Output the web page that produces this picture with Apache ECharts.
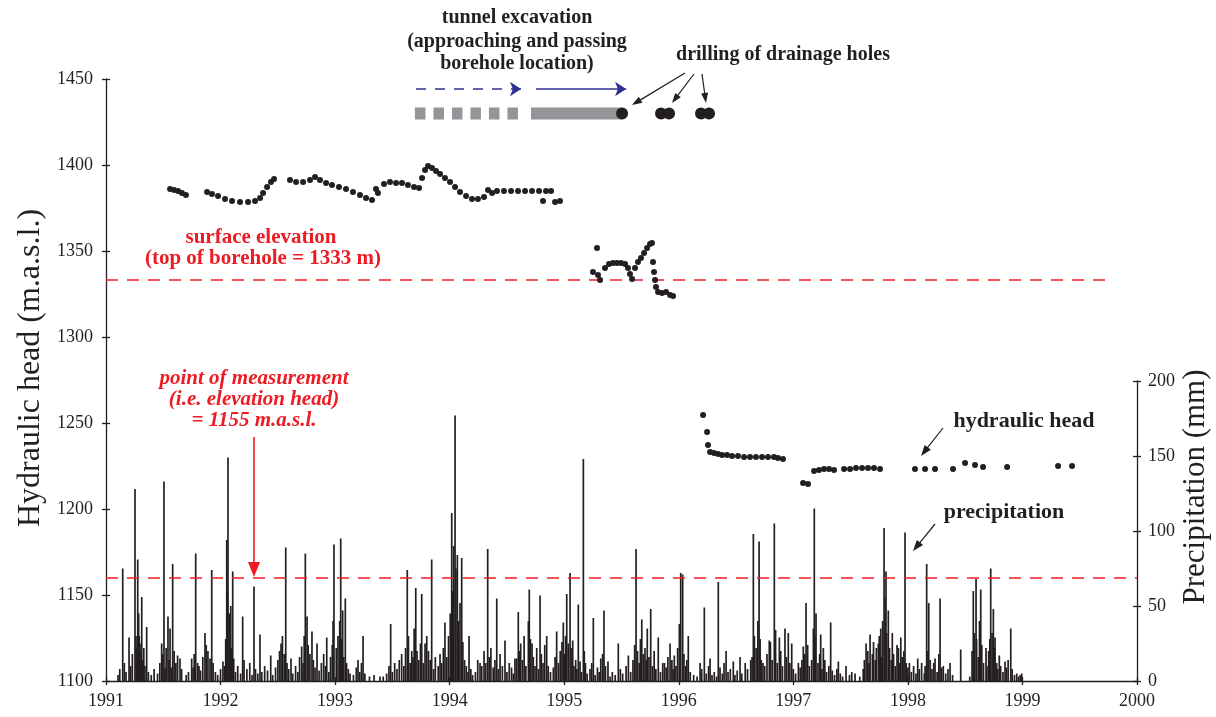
<!DOCTYPE html>
<html>
<head>
<meta charset="utf-8">
<script src="https://cdn.jsdelivr.net/npm/echarts@6/dist/echarts.min.js"></script>
<style>
html,body{margin:0;padding:0;background:#fff;}
#chart{width:1216px;height:717px;}
</style>
</head>
<body>
<div id="chart"></div>
<script>
// ---------- DATA ----------
const yearTicks = [1991, 2000];
const headTicks = [1100, 1450];
const precipTicks = [0, 200];

// hydraulic head (decimal year, m.a.s.l.)
const headSeg1 = [
[1991.559,1386.0],[1991.594,1385.5],[1991.629,1384.9],[1991.663,1383.7],[1991.698,1382.6],
[1991.882,1384.3],[1991.925,1383.1],[1991.978,1382.0],[1992.039,1380.2],[1992.100,1379.1],
[1992.170,1378.5],[1992.240,1378.5],[1992.301,1379.1],[1992.345,1380.8],[1992.371,1383.7],
[1992.406,1387.2],[1992.440,1390.1],[1992.467,1391.9],[1992.606,1391.3],[1992.659,1390.1],
[1992.720,1390.1],[1992.781,1391.3],[1992.825,1393.0],[1992.868,1391.3],[1992.921,1389.5],
[1992.973,1388.4],[1993.034,1387.2],[1993.095,1386.0],[1993.156,1384.3],[1993.217,1382.6],
[1993.270,1380.8],[1993.322,1379.7],[1993.357,1386.0],[1993.374,1383.7],[1993.427,1389.0],
[1993.479,1390.1],[1993.532,1389.5],[1993.584,1389.5],[1993.636,1388.4],[1993.689,1387.2],
[1993.733,1386.6],[1993.759,1392.4],[1993.785,1397.1],[1993.811,1399.4],[1993.846,1398.3],
[1993.881,1396.5],[1993.916,1394.8],[1993.959,1392.4],[1994.003,1390.1],[1994.047,1387.2],
[1994.090,1384.3],[1994.143,1382.0],[1994.195,1380.2],[1994.247,1380.2],[1994.300,1381.4],
[1994.335,1385.5],[1994.370,1383.7],[1994.413,1384.9],[1994.474,1384.9],[1994.536,1384.9],
[1994.597,1384.9],[1994.658,1384.9],[1994.719,1384.9],[1994.780,1384.9],[1994.841,1384.9],
[1994.885,1384.9],[1994.815,1379.1],[1994.920,1378.5],[1994.963,1379.1]
];
const headSeg2 = [
[1995.251,1337.8],[1995.286,1351.7],[1995.295,1336.0],[1995.313,1333.1],[1995.356,1340.1],
[1995.391,1342.4],[1995.426,1343.0],[1995.461,1343.0],[1995.496,1343.0],[1995.531,1342.4],
[1995.557,1340.1],[1995.574,1336.6],[1995.592,1333.7],[1995.618,1340.1],[1995.644,1343.6],
[1995.670,1345.9],[1995.697,1348.8],[1995.723,1351.7],[1995.749,1354.1],[1995.766,1354.7],
[1995.775,1343.6],[1995.784,1337.8],[1995.793,1333.1],[1995.801,1329.1],[1995.819,1326.2],
[1995.854,1325.6],[1995.889,1326.2],[1995.924,1324.4],[1995.950,1323.8]
];
const headSeg3 = [
[1996.212,1254.7],[1996.247,1244.8],[1996.255,1237.2],[1996.273,1233.1],[1996.308,1232.6],
[1996.343,1232.0],[1996.378,1231.4],[1996.421,1231.4],[1996.465,1230.8],[1996.517,1230.8],
[1996.570,1230.2],[1996.622,1230.2],[1996.674,1230.2],[1996.727,1230.2],[1996.779,1230.2],
[1996.831,1230.2],[1996.866,1229.7],[1996.910,1229.1],[1997.085,1215.1],[1997.128,1214.5],
[1997.181,1222.1],[1997.224,1222.7],[1997.268,1223.3],[1997.312,1223.3],[1997.355,1222.7],
[1997.443,1223.3],[1997.495,1223.3],[1997.547,1223.8],[1997.600,1223.8],[1997.652,1223.8],
[1997.704,1223.8],[1997.757,1223.3],[1998.062,1223.3],[1998.150,1223.3],[1998.237,1223.3],
[1998.394,1223.3],[1998.499,1226.7],[1998.586,1225.6],[1998.656,1224.4],[1998.866,1224.4],
[1999.311,1225.0],[1999.433,1225.0]
];

// precipitation (decimal year, mm) - main events
const precipPeaks = [
[1991.146,75],[1991.201,29],[1991.253,128],[1991.277,81],[1991.297,25],[1991.312,56],[1991.355,36],
[1991.486,25],[1991.506,133],[1991.541,43],[1991.559,35],[1991.582,78],[1991.646,15],[1991.748,15],
[1991.783,85],[1991.812,10],[1991.864,32],[1991.890,20],[1991.908,15],[1991.923,74],[1992.021,13],
[1992.054,94],[1992.065,149],[1992.089,50],[1992.106,73],[1992.193,43],[1992.292,63],[1992.344,31],
[1992.438,17],[1992.528,25],[1992.569,89],[1992.615,15],[1992.708,23],[1992.740,85],[1992.755,43],
[1992.798,33],[1992.842,25],[1992.927,29],[1992.990,91],[1993.049,95],[1993.066,47],[1993.089,55],
[1993.200,14],[1993.244,30],[1993.392,3],[1993.485,38],[1993.581,18],[1993.630,74],[1993.669,20],
[1993.704,62],[1993.756,58],[1993.785,25],[1993.843,81],[1993.916,18],[1993.959,39],[1994.018,112],
[1994.047,177],[1994.067,84],[1994.090,52],[1994.105,82],[1994.169,30],[1994.265,12],[1994.332,88],
[1994.411,55],[1994.483,27],[1994.570,15],[1994.599,46],[1994.620,25],[1994.687,40],[1994.695,61],
[1994.719,25],[1994.789,57],[1994.847,30],[1994.934,33],[1994.992,39],[1995.022,58],[1995.051,72],
[1995.074,27],[1995.123,51],[1995.138,13],[1995.167,148],[1995.254,42],[1995.319,15],[1995.347,47],
[1995.382,13],[1995.472,25],[1995.560,17],[1995.627,88],[1995.677,41],[1995.725,35],[1995.755,48],
[1995.821,29],[1995.860,12],[1995.924,25],[1995.961,17],[1996.005,38],[1996.017,72],[1996.034,71],
[1996.083,30],[1996.186,12],[1996.223,49],[1996.273,15],[1996.345,66],[1996.413,20],[1996.476,13],
[1996.535,16],[1996.628,14],[1996.651,98],[1996.701,93],[1996.735,12],[1996.790,27],[1996.834,105],
[1996.878,29],[1996.927,35],[1996.956,32],[1996.986,25],[1997.044,12],[1997.087,23],[1997.111,52],
[1997.183,115],[1997.198,45],[1997.239,31],[1997.262,22],[1997.326,39],[1997.393,13],[1997.460,10],
[1997.539,5],[1997.635,25],[1997.670,31],[1997.742,25],[1997.763,35],[1997.792,102],[1997.809,73],
[1997.829,47],[1997.864,32],[1997.917,22],[1997.938,29],[1997.975,99],[1998.013,12],[1998.086,15],
[1998.143,5],[1998.164,78],[1998.182,52],[1998.237,15],[1998.281,55],[1998.309,10],[1998.368,12],
[1998.461,21],[1998.571,60],[1998.595,68],[1998.636,61],[1998.682,22],[1998.723,75],[1998.746,48],
[1998.761,29],[1998.798,17],[1998.848,13],[1998.898,35],[1998.950,5],[1998.994,5]
];
// precipitation (decimal year, mm) - smaller daily amounts
const precipMinor = [
[1991.105,4],[1991.120,8],[1991.160,12],[1991.175,6],[1991.215,10],[1991.230,18],[1991.262,30],
[1991.270,22],[1991.285,45],[1991.290,30],[1991.305,20],[1991.320,14],[1991.330,22],[1991.340,10],
[1991.370,6],[1991.395,4],[1991.420,8],[1991.450,5],[1991.470,12],[1991.495,18],[1991.515,9],
[1991.525,22],[1991.550,14],[1991.570,9],[1991.595,20],[1991.610,12],[1991.625,17],[1991.660,8],
[1991.700,4],[1991.720,6],[1991.760,9],[1991.770,18],[1991.800,12],[1991.825,7],[1991.845,16],
[1991.875,24],[1991.935,12],[1991.955,6],[1991.975,4],
[1992.000,8],[1992.035,10],[1992.045,28],[1992.060,60],[1992.075,45],[1992.095,22],[1992.115,15],
[1992.130,6],[1992.150,10],[1992.175,5],[1992.205,14],[1992.230,8],[1992.255,12],[1992.275,4],
[1992.305,8],[1992.325,5],[1992.360,6],[1992.385,10],[1992.410,7],[1992.455,4],[1992.480,9],
[1992.500,14],[1992.515,20],[1992.540,30],[1992.555,18],[1992.580,12],[1992.595,8],[1992.630,5],
[1992.655,10],[1992.675,6],[1992.690,16],[1992.720,12],[1992.730,30],[1992.765,24],[1992.780,18],
[1992.810,14],[1992.825,9],[1992.860,7],[1992.880,12],[1992.900,18],[1992.915,10],[1992.945,6],
[1992.960,16],[1992.975,24],[1992.982,40],
[1993.010,22],[1993.025,30],[1993.040,40],[1993.055,28],[1993.075,16],[1993.100,12],[1993.115,8],
[1993.130,5],[1993.160,4],[1993.185,9],[1993.215,6],[1993.230,12],[1993.260,5],[1993.300,3],
[1993.340,4],[1993.420,3],[1993.450,5],[1993.470,10],[1993.500,6],[1993.520,12],[1993.540,8],
[1993.560,14],[1993.600,10],[1993.615,22],[1993.640,30],[1993.655,12],[1993.680,16],[1993.690,35],
[1993.715,20],[1993.730,14],[1993.745,25],[1993.770,12],[1993.800,30],[1993.815,20],[1993.830,14],
[1993.860,8],[1993.875,16],[1993.900,10],[1993.930,12],[1993.945,22],[1993.975,16],[1993.990,30],
[1994.005,45],[1994.025,60],[1994.035,90],[1994.055,75],[1994.075,40],[1994.080,28],[1994.115,26],
[1994.130,14],[1994.145,10],[1994.160,6],[1994.185,8],[1994.200,4],[1994.225,6],[1994.245,14],
[1994.280,10],[1994.300,20],[1994.315,12],[1994.345,16],[1994.360,22],[1994.380,9],[1994.395,14],
[1994.425,8],[1994.440,18],[1994.460,10],[1994.500,6],[1994.520,12],[1994.540,9],[1994.555,5],
[1994.585,15],[1994.610,20],[1994.635,14],[1994.650,30],[1994.665,10],[1994.705,28],[1994.730,16],
[1994.745,10],[1994.760,22],[1994.775,8],[1994.800,18],[1994.815,12],[1994.830,24],[1994.860,10],
[1994.880,6],[1994.905,9],[1994.920,16],[1994.950,12],[1994.965,20],[1994.980,26],
[1995.005,18],[1995.012,30],[1995.035,25],[1995.060,22],[1995.085,10],[1995.100,14],[1995.110,8],
[1995.150,6],[1995.175,20],[1995.185,12],[1995.200,5],[1995.225,8],[1995.240,12],[1995.270,4],
[1995.290,9],[1995.305,6],[1995.335,18],[1995.360,10],[1995.400,3],[1995.420,6],[1995.445,4],
[1995.490,8],[1995.510,5],[1995.540,10],[1995.580,6],[1995.600,14],[1995.615,24],[1995.640,20],
[1995.655,12],[1995.665,28],[1995.690,18],[1995.705,22],[1995.715,14],[1995.740,16],[1995.770,10],
[1995.785,20],[1995.800,8],[1995.840,6],[1995.875,12],[1995.890,9],[1995.905,16],[1995.940,14],
[1995.950,8],[1995.975,10],[1995.990,22],
[1996.012,30],[1996.045,18],[1996.060,10],[1996.070,14],[1996.100,6],[1996.130,4],[1996.160,3],
[1996.200,8],[1996.240,5],[1996.260,10],[1996.290,4],[1996.310,6],[1996.330,3],[1996.360,9],
[1996.380,5],[1996.395,12],[1996.430,6],[1996.450,8],[1996.490,4],[1996.510,7],[1996.550,5],
[1996.580,12],[1996.600,8],[1996.640,16],[1996.660,30],[1996.675,22],[1996.690,40],[1996.710,28],
[1996.720,14],[1996.750,10],[1996.770,18],[1996.800,26],[1996.815,14],[1996.845,34],[1996.860,12],
[1996.890,20],[1996.905,10],[1996.940,16],[1996.970,12],
[1997.000,8],[1997.020,5],[1997.060,9],[1997.075,14],[1997.100,18],[1997.125,24],[1997.140,10],
[1997.160,14],[1997.175,35],[1997.190,30],[1997.215,12],[1997.230,18],[1997.250,8],[1997.275,14],
[1997.290,6],[1997.310,10],[1997.340,7],[1997.360,4],[1997.380,8],[1997.410,5],[1997.430,3],
[1997.490,4],[1997.510,6],[1997.580,3],[1997.610,8],[1997.620,14],[1997.650,20],[1997.660,12],
[1997.690,18],[1997.700,26],[1997.715,14],[1997.725,22],[1997.750,30],[1997.770,16],[1997.780,40],
[1997.800,55],[1997.815,32],[1997.840,22],[1997.855,14],[1997.875,18],[1997.890,10],[1997.905,24],
[1997.925,12],[1997.950,16],[1997.965,20],[1997.985,12],
[1998.000,9],[1998.030,6],[1998.050,10],[1998.070,5],[1998.100,8],[1998.120,12],[1998.150,10],
[1998.175,20],[1998.195,14],[1998.210,8],[1998.225,12],[1998.255,6],[1998.270,18],[1998.295,9],
[1998.330,5],[1998.350,8],[1998.390,4],[1998.540,3],[1998.560,20],[1998.580,32],[1998.600,28],
[1998.615,16],[1998.625,40],[1998.645,24],[1998.660,12],[1998.690,10],[1998.705,20],[1998.715,28],
[1998.735,32],[1998.755,22],[1998.775,12],[1998.785,8],[1998.810,10],[1998.830,6],[1998.860,9],
[1998.875,14],[1998.910,8],[1998.930,4],[1998.965,3],[1998.980,4]
];

// reference levels (m.a.s.l.)
const surfaceElevation = 1333;
const measurementLevel = 1160;
// tunnel / drilling timeline (drawn at 1430 m level)
const timelineLevel = 1430;
const tunnelApproach = [1993.697, 1994.623];
const tunnelPassing = [1994.710, 1995.505];
const drillingDates = [1995.505, 1995.845, 1995.915, 1996.194, 1996.264];
const arrowLevel = 1444.2;
const arrowApproach = [1993.706, 1994.623];
const arrowPassing = [1994.754, 1995.540];

// ---------- CHART ----------
const INK = '#231f20', RED = '#ed1c24', BLUE = '#2e3192', GRAY = '#939598';
const SERIF = '"Liberation Serif", "Times New Roman", serif';
const chart = echarts.init(document.getElementById('chart'), null, {renderer: 'canvas'});

const axisLineStyle = {color: INK, width: 1.3};
const fmt = v => String(v);
function labelStyle(margin) {
  return {fontFamily: SERIF, fontSize: 18, color: INK, margin: margin, formatter: fmt};
}

function txt(text, x, y, font, fill, extra) {
  return Object.assign({
    type: 'text', x: x, y: y, silent: true, z: 100,
    style: {text: text, x: 0, y: 0, font: font, fill: fill,
      align: 'center', verticalAlign: 'middle', textAlign: 'center', textVerticalAlign: 'middle'}
  }, extra || {});
}
function arrow(x1, y1, x2, y2, color, w, len, half) {
  const dx = x2 - x1, dy = y2 - y1, d = Math.sqrt(dx*dx + dy*dy);
  const ux = dx/d, uy = dy/d;
  const bx = x2 - ux*len, by = y2 - uy*len;
  return [
    {type: 'line', silent: true, z: 100, shape: {x1: x1, y1: y1, x2: bx + ux*2, y2: by + uy*2},
      style: {stroke: color, lineWidth: w}},
    {type: 'polygon', silent: true, z: 100,
      shape: {points: [[x2, y2], [bx - uy*half, by + ux*half], [bx + uy*half, by - ux*half]]},
      style: {fill: color}}
  ];
}

const bold20 = 'bold 20px ' + SERIF;
const redB = 'bold 21px ' + SERIF;
const redBI = 'italic bold 21px ' + SERIF;

const graphics = [
  txt('Hydraulic head (m.a.s.l.)', 31, 368, '32px ' + SERIF, INK, {rotation: Math.PI/2}),
  txt('Precipitation (mm)', 1196, 487, '31px ' + SERIF, INK, {rotation: Math.PI/2}),
  txt('tunnel excavation', 517, 18, bold20, INK),
  txt('(approaching and passing', 517, 42, bold20, INK),
  txt('borehole location)', 517, 64, bold20, INK),
  txt('drilling of drainage holes', 783, 55, bold20, INK),
  txt('surface elevation', 261, 238, redB, RED),
  txt('(top of borehole = 1333 m)', 263, 259, redB, RED),
  txt('point of measurement', 254, 379, redBI, RED),
  txt('(i.e. elevation head)', 254, 400, redBI, RED),
  txt('= 1155 m.a.s.l.', 254, 421, redBI, RED),
  txt('hydraulic head', 1024, 421, 'bold 22px ' + SERIF, INK),
  txt('precipitation', 1004, 512, 'bold 22px ' + SERIF, INK)
].concat(
  arrow(685, 73, 632, 105, INK, 1.2, 10, 3.5),
  arrow(694, 74, 672, 103, INK, 1.2, 10, 3.5),
  arrow(702, 74, 706, 103, INK, 1.2, 10, 3.5),
  arrow(943, 428, 921, 456, INK, 1.2, 11, 4),
  arrow(935, 524, 913, 551, INK, 1.2, 11, 4),
  arrow(254, 437, 254, 577, RED, 1.6, 15, 6)
);

const innerTick = {show: true, inside: true, length: 4, lineStyle: axisLineStyle};
const option = {
  animation: false,
  backgroundColor: '#fff',
  grid: [
    {left: 106, right: 79, top: 79, bottom: 36},
    {left: 106, right: 79, top: 381, bottom: 36}
  ],
  xAxis: [
    {gridIndex: 0, type: 'value', position: 'bottom', min: yearTicks[0], max: yearTicks[1], interval: 1,
      axisLine: {show: true, lineStyle: axisLineStyle},
      axisTick: {show: true, length: 4, lineStyle: axisLineStyle},
      axisLabel: labelStyle(11), splitLine: {show: false}},
    {gridIndex: 1, type: 'value', position: 'bottom', min: yearTicks[0], max: yearTicks[1], interval: 1, show: false,
      splitLine: {show: false}},
    {gridIndex: 0, type: 'value', position: 'bottom', min: yearTicks[0], max: yearTicks[1], interval: 1,
      axisLine: {show: false}, axisLabel: {show: false}, splitLine: {show: false}, axisTick: innerTick}
  ],
  yAxis: [
    {gridIndex: 0, type: 'value', position: 'left', min: headTicks[0], max: headTicks[1], interval: 50,
      axisLine: {show: true, lineStyle: axisLineStyle},
      axisTick: {show: true, length: 4, lineStyle: axisLineStyle},
      axisLabel: labelStyle(13), splitLine: {show: false}},
    {gridIndex: 1, type: 'value', position: 'right', min: precipTicks[0], max: precipTicks[1], interval: 50,
      axisLine: {show: true, lineStyle: axisLineStyle},
      axisTick: {show: true, length: 4, lineStyle: axisLineStyle},
      axisLabel: labelStyle(11), splitLine: {show: false}},
    {gridIndex: 0, type: 'value', position: 'left', offset: 0, min: headTicks[0], max: headTicks[1], interval: 50,
      axisLine: {show: false}, axisLabel: {show: false}, splitLine: {show: false}, axisTick: innerTick},
    {gridIndex: 1, type: 'value', position: 'right', offset: 0, min: precipTicks[0], max: precipTicks[1], interval: 50,
      axisLine: {show: false}, axisLabel: {show: false}, splitLine: {show: false}, axisTick: innerTick}
  ],
  series: [
    {type: 'bar', xAxisIndex: 1, yAxisIndex: 1, data: precipPeaks.concat(precipMinor),
      barWidth: 1.7, itemStyle: {color: INK, opacity: 1}, silent: true, z: 2},
    {type: 'scatter', xAxisIndex: 0, yAxisIndex: 0, data: headSeg1.concat(headSeg2, headSeg3),
      symbol: 'circle', symbolSize: 6, itemStyle: {color: INK, opacity: 1}, silent: true, z: 5,
      markLine: {silent: true, symbol: ['none', 'none'], label: {show: false},
        lineStyle: {color: RED, type: [12, 9], width: 1.5},
        data: [
          [{coord: [yearTicks[0], surfaceElevation]}, {coord: [1999.73, surfaceElevation]}],
          [{coord: [yearTicks[0], measurementLevel]}, {coord: [yearTicks[1], measurementLevel]}]
        ]}},
    {type: 'line', xAxisIndex: 0, yAxisIndex: 0, silent: true, symbol: 'none', z: 4,
      data: [[tunnelApproach[0], timelineLevel], [tunnelApproach[1], timelineLevel]],
      lineStyle: {color: GRAY, width: 12, type: [10.5, 8], cap: 'butt'},
      markLine: {silent: true, symbol: ['none', 'arrow'], symbolSize: 11, label: {show: false},
        lineStyle: {color: BLUE, width: 1.5, type: [10, 9]},
        data: [[{coord: [arrowApproach[0], arrowLevel]}, {coord: [arrowApproach[1], arrowLevel]}]]}},
    {type: 'line', xAxisIndex: 0, yAxisIndex: 0, silent: true, symbol: 'none', z: 4,
      data: [[tunnelPassing[0], timelineLevel], [tunnelPassing[1], timelineLevel]],
      lineStyle: {color: GRAY, width: 12, type: 'solid', cap: 'butt'},
      markLine: {silent: true, symbol: ['none', 'arrow'], symbolSize: 11, label: {show: false},
        lineStyle: {color: BLUE, width: 1.5, type: 'solid'},
        data: [[{coord: [arrowPassing[0], arrowLevel]}, {coord: [arrowPassing[1], arrowLevel]}]]}},
    {type: 'scatter', xAxisIndex: 0, yAxisIndex: 0, silent: true, z: 6,
      data: drillingDates.map(d => [d, timelineLevel]),
      symbol: 'circle', symbolSize: 12, itemStyle: {color: INK, opacity: 1}}
  ],
  graphic: graphics
};
chart.setOption(option);
</script>
</body>
</html>
